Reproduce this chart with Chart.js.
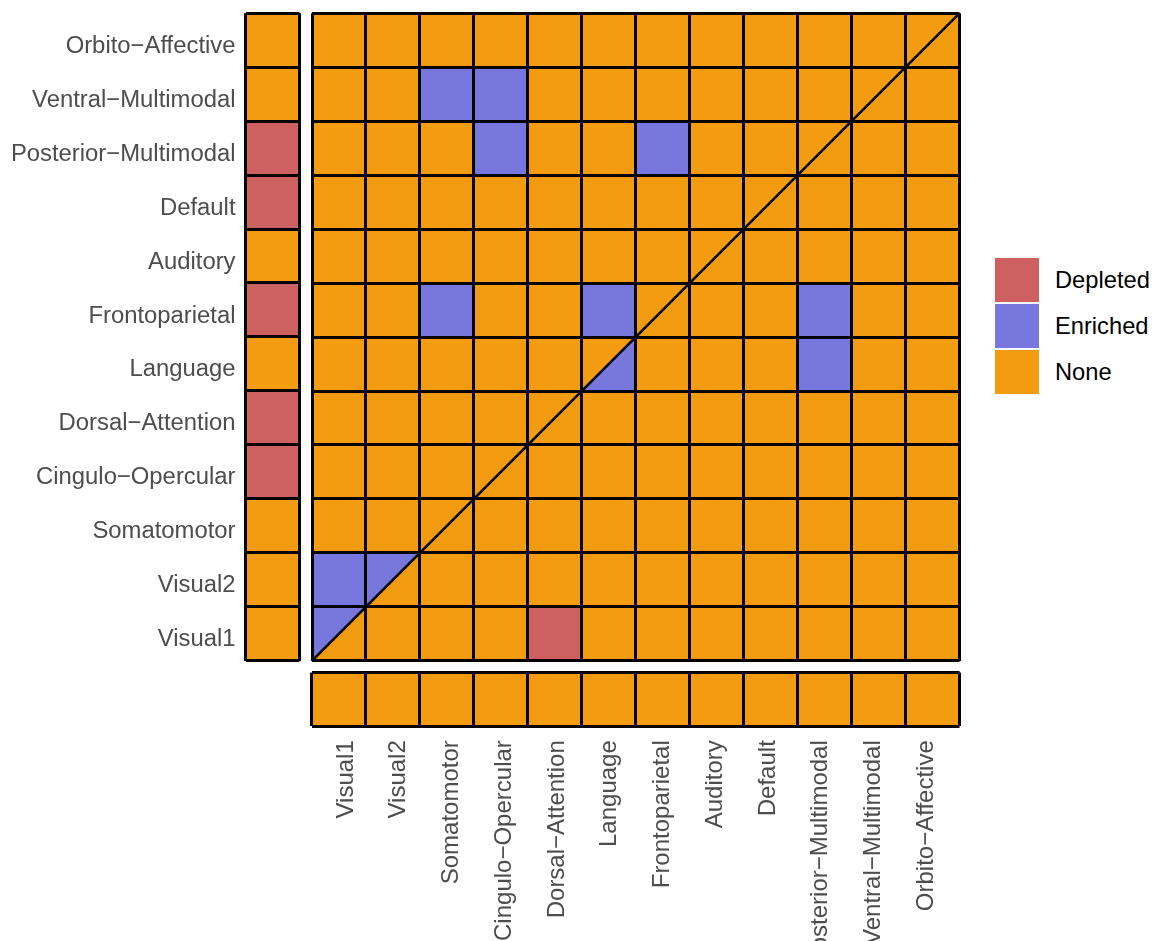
<!DOCTYPE html>
<html>
<head>
<meta charset="utf-8">
<title>Network pair enrichment</title>
<script src="https://cdn.jsdelivr.net/npm/chart.js@4.4.1/dist/chart.umd.min.js"></script>
<style>
  html, body { margin: 0; padding: 0; background: #ffffff; width: 1152px; height: 941px; overflow: hidden; }
  body { position: relative; font-family: "Liberation Sans", Arial, Helvetica, sans-serif; }
  .panel { position: absolute; }
  .panel canvas { display: block; }
  #legend { position: absolute; left: 994px; top: 257px; }
  .item { position: relative; height: 46px; }
  .key { position: absolute; left: 0; top: 0; width: 46px; height: 46px; box-sizing: border-box; border: 1px solid #ffffff; }
  .lab { position: absolute; left: 61px; top: 0; height: 46px; line-height: 46px; font-size: 23.7px; color: #000000; white-space: nowrap; }
</style>
</head>
<body>
<div class="panel" style="left:0px; top:0px; width:306px; height:672px;"><canvas id="rowChart"></canvas></div>
<div class="panel" style="left:300px; top:0px; width:672px; height:672px;"><canvas id="mainChart"></canvas></div>
<div class="panel" style="left:300px; top:660px; width:672px; height:281px;"><canvas id="colChart"></canvas></div>
<div id="legend"></div>

<script>
// Networks, ordered from the bottom row / left column outwards
const networks = [
  'Visual1', 'Visual2', 'Somatomotor', 'Cingulo\u2212Opercular', 'Dorsal\u2212Attention',
  'Language', 'Frontoparietal', 'Auditory', 'Default', 'Posterior\u2212Multimodal',
  'Ventral\u2212Multimodal', 'Orbito\u2212Affective'
];

const statuses = ['Depleted', 'Enriched', 'None'];

// Pairwise status: pairStatus[row][col], D = Depleted, E = Enriched, N = None.
// Diagonal cells ('-') are split in two halves, listed separately below.
const pairStatus = [
  ['-', 'N', 'N', 'N', 'D', 'N', 'N', 'N', 'N', 'N', 'N', 'N'], // Visual1
  ['E', '-', 'N', 'N', 'N', 'N', 'N', 'N', 'N', 'N', 'N', 'N'], // Visual2
  ['N', 'N', '-', 'N', 'N', 'N', 'N', 'N', 'N', 'N', 'N', 'N'], // Somatomotor
  ['N', 'N', 'N', '-', 'N', 'N', 'N', 'N', 'N', 'N', 'N', 'N'], // Cingulo-Opercular
  ['N', 'N', 'N', 'N', '-', 'N', 'N', 'N', 'N', 'N', 'N', 'N'], // Dorsal-Attention
  ['N', 'N', 'N', 'N', 'N', '-', 'N', 'N', 'N', 'E', 'N', 'N'], // Language
  ['N', 'N', 'E', 'N', 'N', 'E', '-', 'N', 'N', 'E', 'N', 'N'], // Frontoparietal
  ['N', 'N', 'N', 'N', 'N', 'N', 'N', '-', 'N', 'N', 'N', 'N'], // Auditory
  ['N', 'N', 'N', 'N', 'N', 'N', 'N', 'N', '-', 'N', 'N', 'N'], // Default
  ['N', 'N', 'N', 'E', 'N', 'N', 'E', 'N', 'N', '-', 'N', 'N'], // Posterior-Multimodal
  ['N', 'N', 'E', 'E', 'N', 'N', 'N', 'N', 'N', 'N', '-', 'N'], // Ventral-Multimodal
  ['N', 'N', 'N', 'N', 'N', 'N', 'N', 'N', 'N', 'N', 'N', '-']  // Orbito-Affective
];

// Halves of the diagonal cells (above / below the diagonal line)
const diagonalUpperLeft  = ['E', 'E', 'N', 'N', 'N', 'N', 'N', 'N', 'N', 'N', 'N', 'N'];
const diagonalLowerRight = ['N', 'N', 'N', 'N', 'N', 'E', 'N', 'N', 'N', 'N', 'N', 'N'];

// Per-network status in the row margin (left strip) and the column margin (bottom strip)
const rowStatus    = ['N', 'N', 'N', 'D', 'D', 'N', 'D', 'N', 'D', 'D', 'N', 'N'];
const columnStatus = ['N', 'N', 'N', 'N', 'N', 'N', 'N', 'N', 'N', 'N', 'N', 'N'];

// ---- styling ----
const statusColor = { D: '#CD6161', E: '#7777DD', N: '#F39C12' };
const codeOf = { Depleted: 'D', Enriched: 'E', None: 'N' };
const FONT_FAMILY = "'Liberation Sans', Arial, Helvetica, sans-serif";
const ROW_FONT = { family: FONT_FAMILY, size: 23.85 };
const COL_FONT = { family: FONT_FAMILY, size: 24 };
const LABEL_COLOR = '#4D4D4D';
const EDGE = '#000000';
const EDGE_WIDTH = 3;

Chart.defaults.font.family = FONT_FAMILY;
Chart.defaults.animation = false;

// tile edges are drawn as grid lines above the tiles
const gridEdges = { color: EDGE, lineWidth: EDGE_WIDTH, drawTicks: false, z: 1 };

// keep the plot area fixed: no extra room for the outermost tick labels
function noLabelPadding(scale) {
  scale.paddingTop = 0;
  scale.paddingBottom = 0;
  scale.paddingLeft = 0;
  scale.paddingRight = 0;
}

// ---- main matrix ----
const cellDatasets = statuses.map(name => {
  const code = codeOf[name];
  const data = [];
  pairStatus.forEach((row, r) => {
    row.forEach((s, c) => {
      const value = (r === c) ? diagonalLowerRight[r] : s;
      if (value === code) data.push({ x: c + 0.5, y: [r, r + 1] });
    });
  });
  return {
    type: 'bar',
    label: name,
    data: data,
    backgroundColor: statusColor[code],
    borderWidth: 0,
    grouped: false,
    barPercentage: 1,
    categoryPercentage: 1,
    order: 2
  };
});

const diagonalLine = {
  type: 'line',
  label: 'diagonal',
  data: [{ x: 0, y: 0 }, { x: networks.length, y: networks.length }],
  borderColor: EDGE,
  borderWidth: 2.5,
  pointRadius: 0,
  fill: false,
  order: 1
};

// paints the upper-left halves of the diagonal cells before the diagonal line is drawn
const diagonalHalves = {
  id: 'diagonalHalves',
  beforeDatasetDraw(chart, args) {
    if (args.meta.type !== 'line') return;
    const { ctx, scales: { x, y } } = chart;
    ctx.save();
    diagonalUpperLeft.forEach((s, i) => {
      ctx.fillStyle = statusColor[s];
      ctx.beginPath();
      ctx.moveTo(x.getPixelForValue(i), y.getPixelForValue(i));
      ctx.lineTo(x.getPixelForValue(i), y.getPixelForValue(i + 1));
      ctx.lineTo(x.getPixelForValue(i + 1), y.getPixelForValue(i + 1));
      ctx.closePath();
      ctx.fill();
    });
    ctx.restore();
  }
};

new Chart(document.getElementById('mainChart'), {
  type: 'bar',
  data: { datasets: [...cellDatasets, diagonalLine] },
  plugins: [diagonalHalves],
  options: {
    responsive: true,
    maintainAspectRatio: false,
    events: [],
    layout: { padding: { left: 12, top: 13.3, right: 12.5, bottom: 11.2 } },
    plugins: { legend: { display: false }, tooltip: { enabled: false } },
    scales: {
      x: {
        type: 'linear', min: 0, max: networks.length, offset: false,
        ticks: { display: false, stepSize: 1 },
        grid: { ...gridEdges, offset: false },
        border: { display: false }
      },
      y: {
        type: 'linear', min: 0, max: networks.length,
        ticks: { display: false, stepSize: 1 },
        grid: gridEdges,
        border: { display: false }
      }
    }
  }
});

// ---- left strip: row margin with network labels ----
new Chart(document.getElementById('rowChart'), {
  type: 'bar',
  data: {
    labels: networks,
    datasets: [{
      data: networks.map(() => 1),
      backgroundColor: rowStatus.map(s => statusColor[s]),
      borderWidth: 0,
      barPercentage: 1,
      categoryPercentage: 1
    }]
  },
  options: {
    indexAxis: 'y',
    responsive: true,
    maintainAspectRatio: false,
    events: [],
    layout: { padding: { left: 0, top: 13.3, right: 6.5, bottom: 11.5 } },
    plugins: { legend: { display: false }, tooltip: { enabled: false } },
    scales: {
      x: {
        type: 'linear', min: 0, max: 1,
        ticks: { display: false, stepSize: 1 },
        grid: gridEdges,
        border: { display: false }
      },
      y: {
        type: 'category',
        reverse: true,
        ticks: { font: ROW_FONT, color: LABEL_COLOR, padding: 10, labelOffset: 6, autoSkip: false },
        grid: { ...gridEdges, offset: true },
        border: { display: false },
        afterFit(scale) { scale.width = 245.5; noLabelPadding(scale); }
      }
    }
  }
});

// ---- bottom strip: column margin, with the network names on a separate label axis ----
new Chart(document.getElementById('colChart'), {
  type: 'bar',
  data: {
    labels: networks,
    datasets: [{
      data: networks.map(() => 1),
      backgroundColor: columnStatus.map(s => statusColor[s]),
      borderWidth: 0,
      barPercentage: 1,
      categoryPercentage: 1
    }]
  },
  options: {
    responsive: true,
    maintainAspectRatio: false,
    events: [],
    layout: { padding: { left: 12, top: 12.6, right: 12.5, bottom: 0 } },
    plugins: { legend: { display: false }, tooltip: { enabled: false } },
    scales: {
      x: {
        type: 'category',
        position: 'bottom',
        ticks: { display: false, autoSkip: false },
        grid: { ...gridEdges, offset: true },
        border: { display: false },
        afterFit(scale) { scale.height = 0; noLabelPadding(scale); }
      },
      names: {
        type: 'linear',
        position: 'bottom',
        offset: false,
        min: -0.644, max: 11.633,
        afterBuildTicks(scale) { scale.ticks = networks.map((_, i) => ({ value: i })); },
        ticks: {
          font: COL_FONT, color: LABEL_COLOR, padding: 14, autoSkip: false,
          minRotation: 90, maxRotation: 90,
          callback: (value) => networks[value]
        },
        grid: { display: false, drawTicks: false, offset: false },
        border: { display: false },
        afterFit(scale) { scale.height = 214.8; noLabelPadding(scale); }
      },
      y: {
        type: 'linear', min: 0, max: 1,
        ticks: { display: false, stepSize: 1 },
        grid: gridEdges,
        border: { display: false }
      }
    }
  }
});

// ---- legend ----
const legendEl = document.getElementById('legend');
statuses.forEach(name => {
  const item = document.createElement('div');
  item.className = 'item';
  const key = document.createElement('div');
  key.className = 'key';
  key.style.background = statusColor[codeOf[name]];
  const lab = document.createElement('div');
  lab.className = 'lab';
  lab.textContent = name;
  item.appendChild(key);
  item.appendChild(lab);
  legendEl.appendChild(item);
});
</script>
</body>
</html>
